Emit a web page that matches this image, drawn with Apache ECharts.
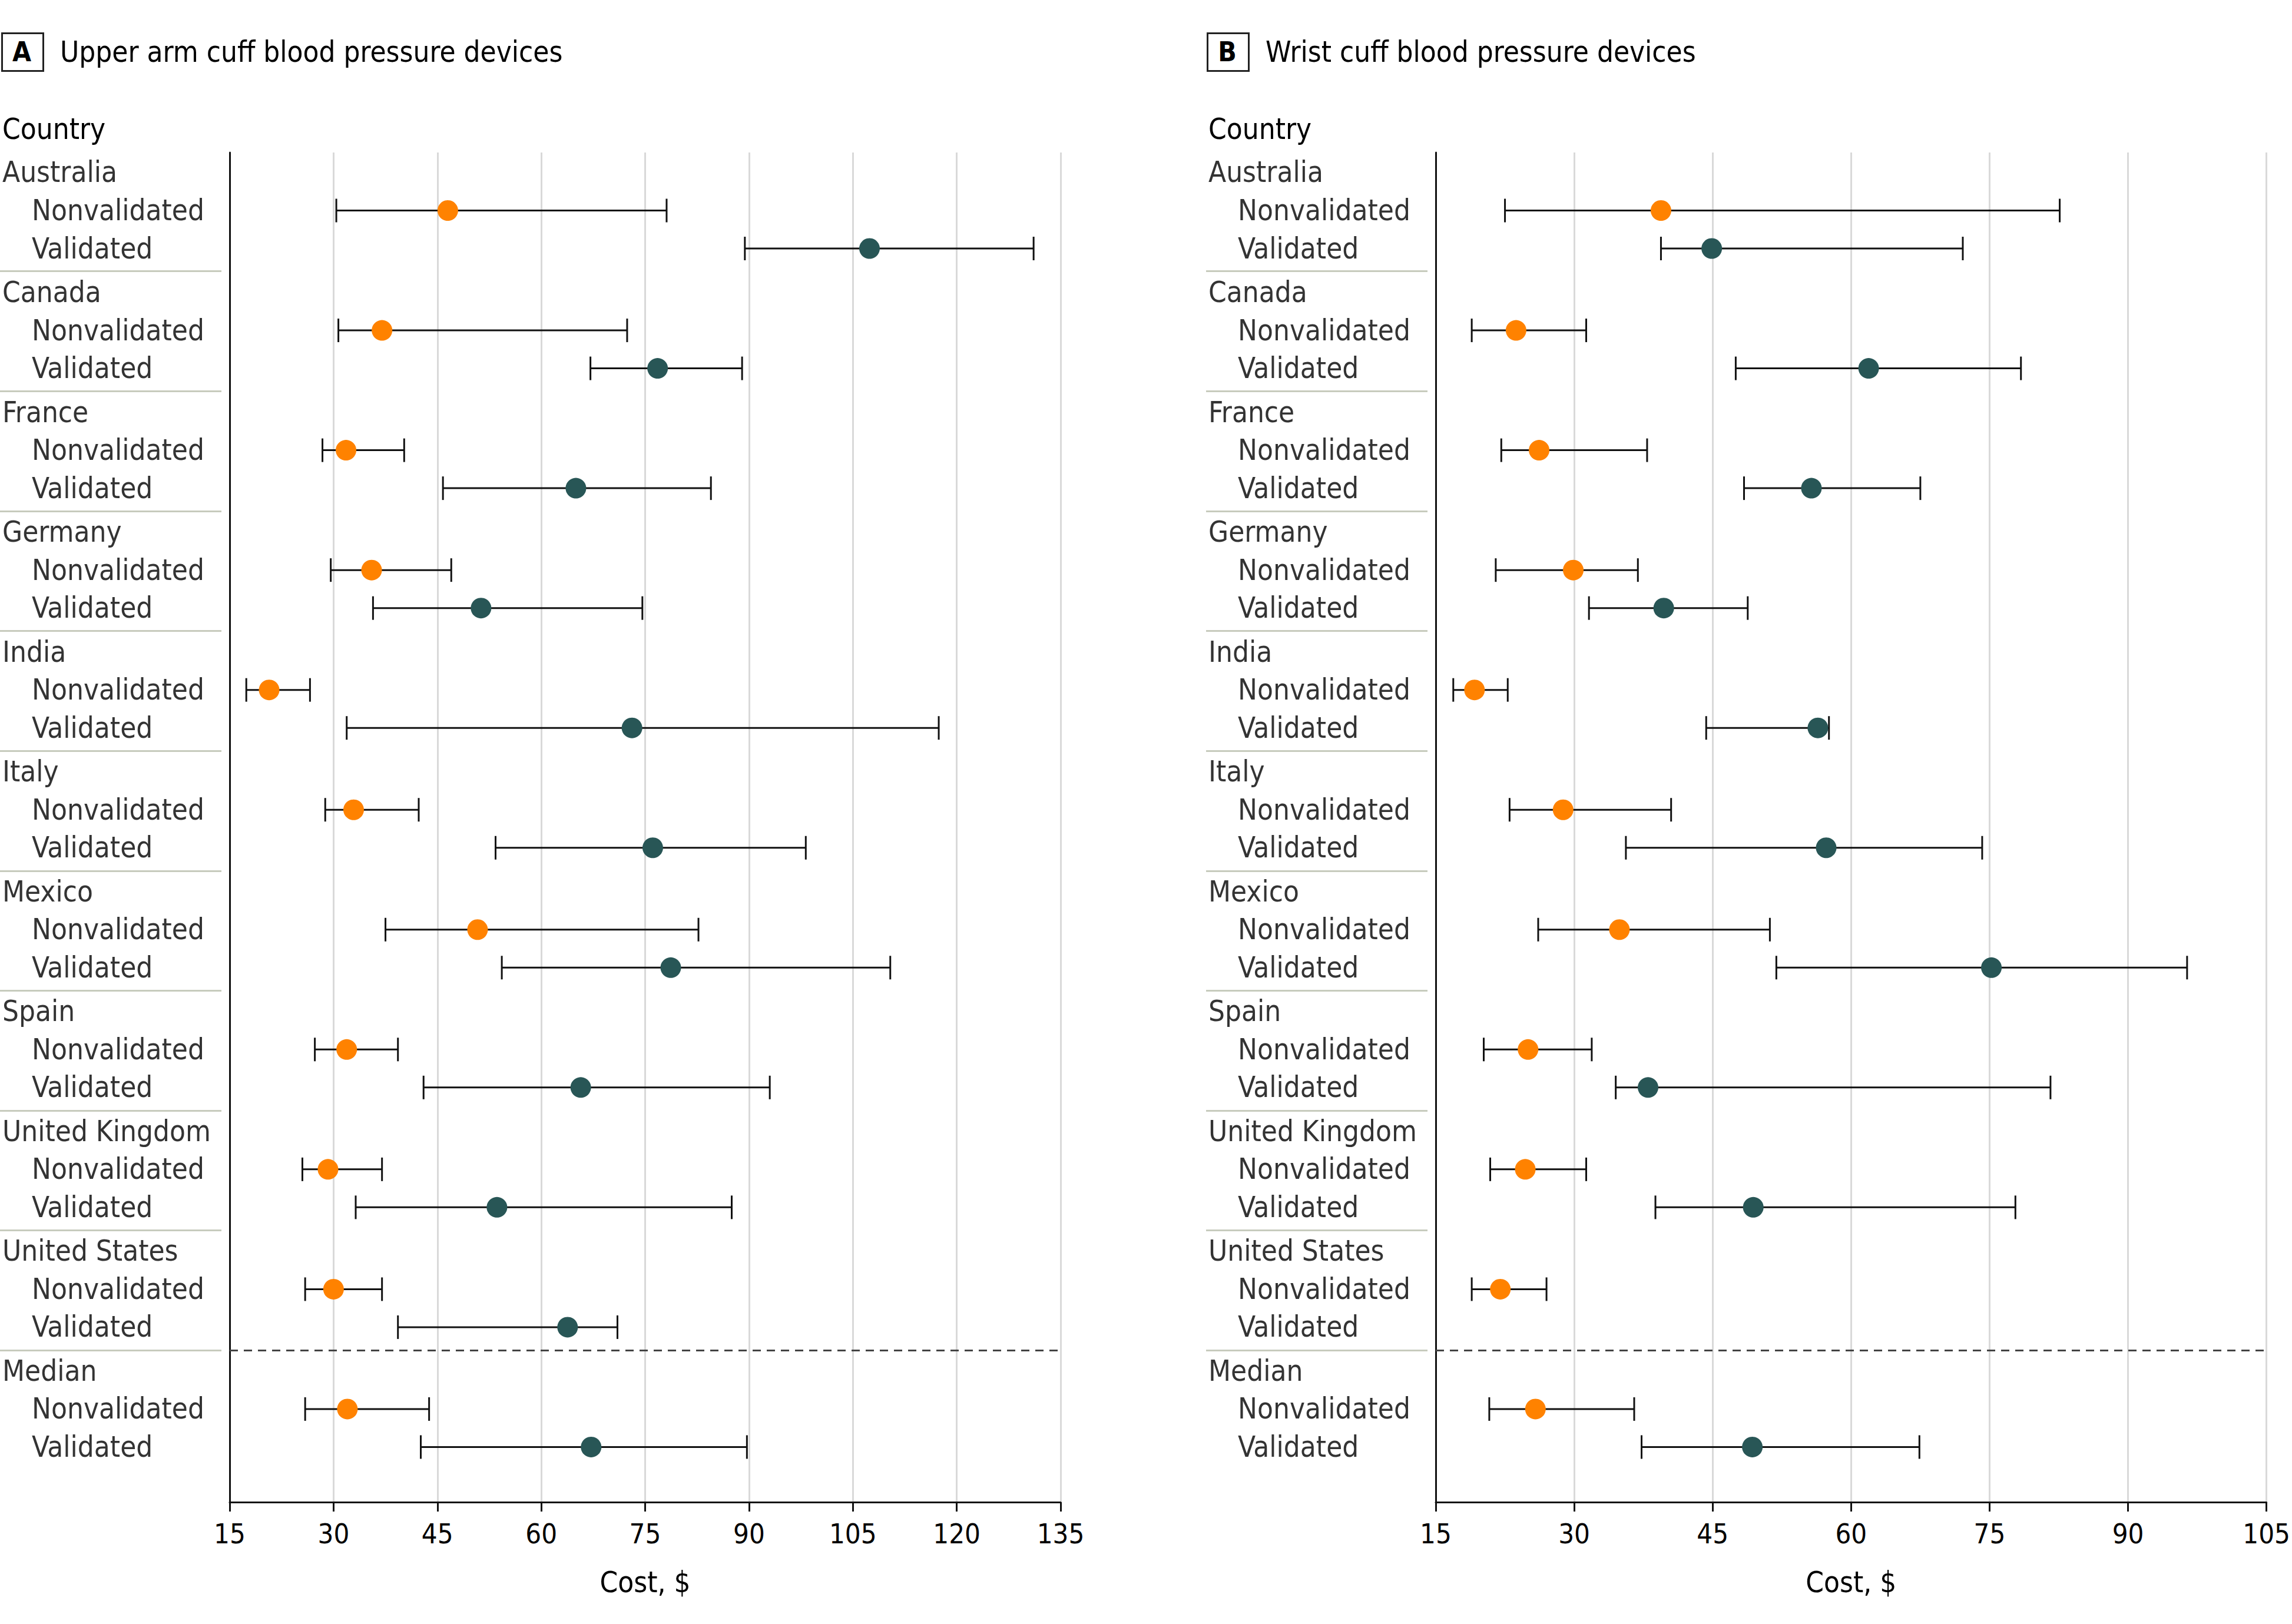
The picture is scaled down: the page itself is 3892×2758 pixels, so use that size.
<!DOCTYPE html>
<html><head><meta charset="utf-8">
<script src="https://cdn.jsdelivr.net/npm/echarts@6/dist/echarts.min.js"></script>
<style>html,body{margin:0;padding:0;background:#fff}#c{width:3892px;height:2758px}</style>
</head><body><div id="c"></div>
<script>
// ---------- DATA ----------
const countries = ['Australia','Canada','France','Germany','India','Italy','Mexico','Spain','United Kingdom','United States','Median'];
const subgroups = ['Nonvalidated','Validated'];
const panelTitles = ['Upper arm cuff blood pressure devices','Wrist cuff blood pressure devices'];
const panelLetters = ['A','B'];
const axisTitle = 'Cost, $';
const columnHeader = 'Country';

// Panel A: upper arm cuff
const armNonvalidated     = [46.5, 37.0, 31.8, 35.5, 20.7, 32.9, 50.8, 31.9, 29.2, 30.0, 32.0];
const armNonvalidatedLow  = [30.4, 30.7, 28.4, 29.6, 17.4, 28.8, 37.5, 27.3, 25.5, 25.9, 25.9];
const armNonvalidatedHigh = [78.1, 72.4, 40.2, 47.0, 26.6, 42.3, 82.7, 39.3, 37.0, 37.0, 43.8];
const armValidated        = [107.4, 76.8, 65.0, 51.3, 73.1, 76.1, 78.7, 65.7, 53.6, 63.8, 67.2];
const armValidatedLow     = [89.4, 67.1, 45.8, 35.7, 31.9, 53.4, 54.3, 43.0, 33.2, 39.3, 42.6];
const armValidatedHigh    = [131.1, 89.0, 84.5, 74.6, 117.4, 98.2, 110.4, 93.0, 87.5, 71.0, 89.7];

// Panel B: wrist cuff
const wristNonvalidated     = [39.4, 23.7, 26.2, 29.9, 19.2, 28.8, 34.9, 25.0, 24.7, 22.0, 25.8];
const wristNonvalidatedLow  = [22.5, 18.9, 22.1, 21.5, 16.9, 23.0, 26.1, 20.2, 20.9, 18.9, 20.8];
const wristNonvalidatedHigh = [82.6, 31.3, 37.9, 36.9, 22.8, 40.5, 51.2, 31.9, 31.3, 27.0, 36.5];
const wristValidated        = [44.9, 61.9, 55.7, 39.7, 56.4, 57.3, 75.2, 38.0, 49.4, null, 49.3];
const wristValidatedLow     = [39.4, 47.5, 48.4, 31.6, 44.3, 35.6, 51.9, 34.5, 38.8, null, 37.3];
const wristValidatedHigh    = [72.1, 78.4, 67.5, 48.8, 57.6, 74.2, 96.4, 81.6, 77.8, null, 67.4];

const armTicks = {min: 15, max: 135, interval: 15};
const wristTicks = {min: 15, max: 105, interval: 15};

// ---------- STYLE / LAYOUT ----------
const FONT = "'DejaVu Sans Condensed','Liberation Sans Narrow',sans-serif";
const FS = 49;
const ORANGE = '#FF8200';
const TEAL = '#285656';
const INK = '#000000';
const GROUP_PITCH = 3.155;   // rows per country block (incl. gap)
const SEP_OFFSET = 0.55;     // separator sits this far above a block header
const Y_MIN = -0.527, Y_MAX = 35.0;
const TOP = 259, HEIGHT = 2292;
const mainLeft = [390, 2438], mainWidth = 1411;
const labelLeft = [0, 2048], labelWidth = 376;

function rowOf(g, k) { return g * GROUP_PITCH + k; } // k: 0 header, 1 NV, 2 V

function buildErr(low, high, k) {
  const out = [];
  low.forEach((l, g) => { if (l != null && high[g] != null) out.push([l, high[g], rowOf(g, k)]); });
  return out;
}
function buildPts(vals, k) {
  const out = [];
  vals.forEach((v, g) => { if (v != null) out.push([v, rowOf(g, k)]); });
  return out;
}

function renderErr(params, api) {
  const y = api.value(2);
  const p1 = api.coord([api.value(0), y]);
  const p2 = api.coord([api.value(1), y]);
  const h = 20;
  const style = {stroke: '#111', lineWidth: 3, fill: null};
  return {type: 'group', children: [
    {type: 'line', shape: {x1: p1[0], y1: p1[1], x2: p2[0], y2: p2[1]}, style: style},
    {type: 'line', shape: {x1: p1[0], y1: p1[1] - h, x2: p1[0], y2: p1[1] + h}, style: style},
    {type: 'line', shape: {x1: p2[0], y1: p2[1] - h, x2: p2[0], y2: p2[1] + h}, style: style}
  ]};
}

const panels = [
  {ticks: armTicks, nv: armNonvalidated, nvl: armNonvalidatedLow, nvh: armNonvalidatedHigh,
   v: armValidated, vl: armValidatedLow, vh: armValidatedHigh},
  {ticks: wristTicks, nv: wristNonvalidated, nvl: wristNonvalidatedLow, nvh: wristNonvalidatedHigh,
   v: wristValidated, vl: wristValidatedLow, vh: wristValidatedHigh}
];

const grid = [], xAxis = [], yAxis = [], series = [], graphic = [];

panels.forEach((P, p) => {
  grid.push({left: mainLeft[p], top: TOP, width: mainWidth, height: HEIGHT});
  xAxis.push({
    type: 'value', gridIndex: p, min: P.ticks.min, max: P.ticks.max, interval: P.ticks.interval,
    axisLine: {show: true, onZero: false, lineStyle: {color: '#111', width: 3}},
    axisTick: {show: true, length: 16, lineStyle: {color: '#111', width: 3}},
    axisLabel: {fontSize: 47, margin: 30, color: INK, fontFamily: FONT},
    splitLine: {show: true, lineStyle: {color: '#D9D9D9', width: 3}},
    name: axisTitle, nameLocation: 'middle', nameGap: 112,
    nameTextStyle: {fontSize: FS, color: INK, fontFamily: FONT}
  });
  yAxis.push({
    type: 'value', gridIndex: p, inverse: true, min: Y_MIN, max: Y_MAX,
    axisLine: {show: true, onZero: false, lineStyle: {color: '#111', width: 3}},
    axisTick: {show: false}, axisLabel: {show: false}, splitLine: {show: false}
  });
});
panels.forEach((P, p) => {
  grid.push({left: labelLeft[p], top: TOP, width: labelWidth, height: HEIGHT});
  xAxis.push({type: 'value', gridIndex: 2 + p, min: 0, max: labelWidth, show: false});
  yAxis.push({type: 'value', gridIndex: 2 + p, inverse: true, min: Y_MIN, max: Y_MAX, show: false});
});

panels.forEach((P, p) => {
  series.push({
    type: 'custom', xAxisIndex: p, yAxisIndex: p, renderItem: renderErr,
    encode: {x: [0, 1], y: 2}, data: buildErr(P.nvl, P.nvh, 1).concat(buildErr(P.vl, P.vh, 2)),
    z: 2, silent: true, animation: false
  });
  series.push({
    type: 'scatter', xAxisIndex: p, yAxisIndex: p, symbol: 'circle', symbolSize: 35,
    itemStyle: {color: ORANGE, opacity: 1}, data: buildPts(P.nv, 1), z: 3, silent: true, animation: false,
    markLine: {
      silent: true, symbol: ['none', 'none'], label: {show: false}, animation: false,
      lineStyle: {color: '#444', width: 3, type: [14, 10]},
      data: [{yAxis: rowOf(countries.length - 1, 0) - SEP_OFFSET}]
    }
  });
  series.push({
    type: 'scatter', xAxisIndex: p, yAxisIndex: p, symbol: 'circle', symbolSize: 35,
    itemStyle: {color: TEAL, opacity: 1}, data: buildPts(P.v, 2), z: 3, silent: true, animation: false
  });

  // row labels in the label column
  const labelData = [];
  countries.forEach((c, g) => {
    labelData.push({value: [4, rowOf(g, 0)], name: c});
    subgroups.forEach((s, k) => labelData.push({value: [54, rowOf(g, k + 1)], name: s}));
  });
  const sepLines = [];
  for (let g = 1; g < countries.length; g++) {
    sepLines.push({yAxis: rowOf(g, 0) - SEP_OFFSET, lineStyle: {color: '#C7CBBD', width: 3, type: 'solid'}});
  }
  sepLines.push({yAxis: Y_MIN, lineStyle: {color: '#000', width: 5, type: 'solid'}});
  series.push({
    type: 'scatter', xAxisIndex: 2 + p, yAxisIndex: 2 + p, symbolSize: 0, silent: true, animation: false,
    data: labelData,
    label: {show: true, position: 'right', distance: 0, formatter: d => d.name,
            fontSize: FS, color: INK, fontFamily: FONT},
    markLine: {silent: true, symbol: ['none', 'none'], label: {show: false}, animation: false, data: sepLines}
  });

  // panel heading
  const bx = p === 0 ? 2 : 2049;
  graphic.push({type: 'rect', left: bx, top: 55, shape: {width: 70, height: 64},
                style: {fill: '#fff', stroke: '#222', lineWidth: 3}});
  graphic.push({type: 'text', x: bx + 35, y: 88,
                style: {text: panelLetters[p], font: 'bold 46px ' + FONT, fill: INK, align: 'center', verticalAlign: 'middle'}});
  graphic.push({type: 'text', x: bx + 100, y: 88,
                style: {text: panelTitles[p], font: FS + 'px ' + FONT, fill: INK, align: 'left', verticalAlign: 'middle'}});
  graphic.push({type: 'text', x: labelLeft[p] + 4, y: 219,
                style: {text: columnHeader, font: FS + 'px ' + FONT, fill: INK, align: 'left', verticalAlign: 'middle'}});
});

const chart = echarts.init(document.getElementById('c'), null, {renderer: 'svg', width: 3892, height: 2758});
chart.setOption({
  backgroundColor: '#ffffff',
  animation: false,
  textStyle: {fontFamily: FONT},
  grid: grid, xAxis: xAxis, yAxis: yAxis, series: series, graphic: graphic
});
</script></body></html>
